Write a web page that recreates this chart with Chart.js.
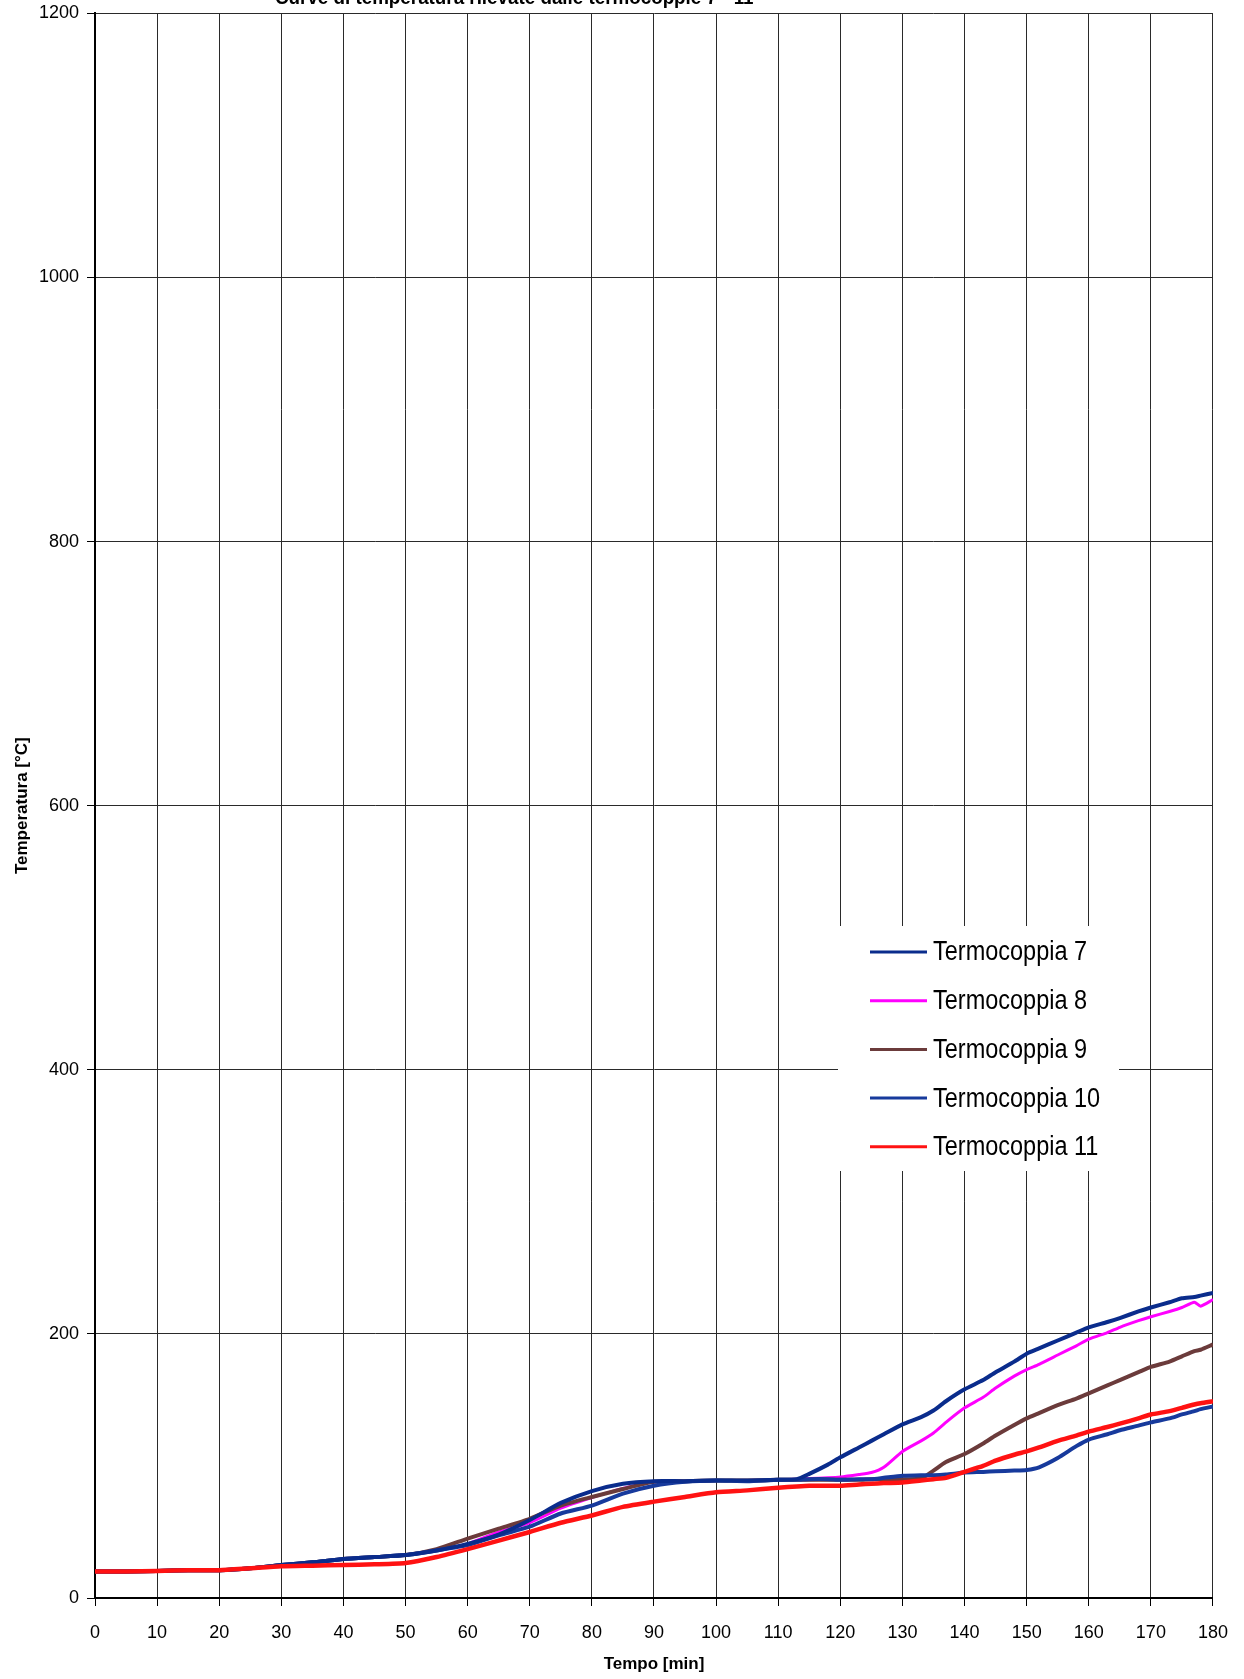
<!DOCTYPE html>
<html>
<head>
<meta charset="utf-8">
<title>Curve di temperatura</title>
<script src="https://cdn.jsdelivr.net/npm/chart.js@4/dist/chart.umd.min.js"></script>
<style>
  html, body { margin: 0; padding: 0; background: #fff; }
  #wrap { width: 1244px; height: 1679px; }
</style>
</head>
<body>
<div id="wrap"><canvas id="c" width="1244" height="1679"></canvas></div>
<script>
// ---- data (minutes / °C)
const TIME = [0, 5, 10, 15, 20, 25, 30, 35, 40, 45, 50, 55, 60, 65, 70, 75, 80, 85, 90, 95,
  100, 105, 110, 113, 115, 118, 120, 123, 125, 127, 130, 133, 135, 137, 140, 143, 145, 148,
  150, 152, 155, 158, 160, 163, 165, 168, 170, 173, 175, 177, 178, 180];

const TC7 = [20, 20, 20.5, 21, 21, 22.5, 25, 27, 29.5, 31, 32.5, 36, 41, 48, 59, 72, 81, 86.5, 88.5, 88.5,
  89, 89, 89.5, 90, 94, 101, 106.5, 114, 119, 124, 131.5, 137, 142, 149, 158, 165, 171, 179,
  185, 189, 195, 201, 205, 209, 212, 217, 220, 224, 227, 228, 229, 231];

const TC8 = [20, 20, 20.5, 21, 21, 22.5, 25, 27, 29.5, 31, 32.5, 36, 41, 50, 57, 68, 76, 83, 88, 88.5,
  89, 89, 89.5, 90, 90.5, 91, 91.6, 93.5, 95, 99, 111, 119, 125, 133, 144, 152, 159, 168,
  173, 177, 184, 191, 196, 201, 205, 210, 213, 217, 220, 224, 221, 226];

const TC9 = [20, 20, 20.5, 21, 21, 22.5, 25, 27, 29.5, 31, 32.5, 37, 45, 52.5, 60, 70, 76.5, 82.5, 88, 88.5,
  89, 89, 89.5, 89.5, 89.5, 89.5, 89.5, 89.5, 90, 90, 90, 90.5, 96.5, 103, 109, 117, 123, 131,
  136, 140, 146, 151, 155, 161, 165, 171, 175, 179, 183, 187, 188, 192];

const TC10 = [20, 20, 20.5, 21, 21, 22.5, 25, 27, 29.5, 31, 32.5, 36, 40, 47.5, 54, 64, 70, 79, 85, 88,
  89, 88.5, 89.5, 89.5, 90, 90, 89.5, 90, 90, 91, 92.5, 93, 93, 93.5, 95, 95.5, 96, 96.5,
  97, 99, 106, 115, 120, 124, 127, 130.5, 133, 136, 139, 141.5, 143, 145];

const TC11 = [20, 20, 20.5, 21, 21, 22.5, 24, 24.5, 25, 25.5, 26.5, 31, 37, 43.5, 50, 57, 62.5, 69, 73, 76.5,
  80, 81.5, 83.5, 84.5, 85, 85, 85, 86, 86.5, 87, 87.5, 89, 90, 91, 95.5, 100, 104, 108.5,
  111, 114, 119, 123, 126, 129.5, 132, 136, 139, 141.5, 144, 146.5, 147.5, 149];

const SERIES = ["Termocoppia 7", "Termocoppia 8", "Termocoppia 9", "Termocoppia 10", "Termocoppia 11"];
const VALUES = [TC7, TC8, TC9, TC10, TC11];
const COLORS = ["#0a2c8c", "#ff00ff", "#6b3b3b", "#173a9c", "#ff1212"];
const WIDTHS = [4, 3, 4, 4, 4.5];
const ZORDER = [1, 4, 3, 2, 0];   // red on top, pink/brown underneath the blue plateau

const X_TICKS = { min: 0, max: 180, step: 10 };
const Y_TICKS = { min: 0, max: 1200, step: 200 };

const SANS = '"Liberation Sans", Arial, sans-serif';

// title is clipped by the top of the scan, legend sits inside the plot
const overlay = {
  id: "overlay",
  afterDraw(chart) {
    const ctx = chart.ctx;
    ctx.save();
    ctx.fillStyle = "#000";
    ctx.font = 'bold 20px ' + SANS;
    ctx.textBaseline = "middle";
    ctx.translate(275, -2);
    ctx.scale(0.94, 1);
    ctx.fillText("Curve di temperatura rilevate dalle termocoppie 7 - 11", 0, 0);
    ctx.restore();

    // legend box
    ctx.save();
    ctx.fillStyle = "#fff";
    ctx.fillRect(838, 926, 281, 245);
    chart.data.datasets.forEach((ds, i) => {
      const y = 952 + i * 48.7;
      ctx.strokeStyle = ds.borderColor;
      ctx.lineWidth = 3;
      ctx.beginPath();
      ctx.moveTo(870, y);
      ctx.lineTo(927, y);
      ctx.stroke();
      ctx.save();
      ctx.translate(933, y + 1);
      ctx.scale(0.87, 1);
      ctx.fillStyle = "#000";
      ctx.font = '27px ' + SANS;
      ctx.textBaseline = "middle";
      ctx.fillText(ds.label, 0, 0);
      ctx.restore();
    });
    ctx.restore();
  }
};

new Chart(document.getElementById("c"), {
  type: "line",
  data: {
    datasets: SERIES.map((name, i) => ({
      label: name,
      data: TIME.map((t, k) => ({ x: t, y: VALUES[i][k] })),
      borderColor: COLORS[i],
      backgroundColor: COLORS[i],
      borderWidth: WIDTHS[i],
      pointRadius: 0,
      tension: 0.2,
      order: ZORDER[i],
    })),
  },
  options: {
    responsive: false,
    animation: false,
    devicePixelRatio: 1,
    layout: { padding: { top: 0, right: 27, left: 0, bottom: 0 } },
    plugins: { legend: { display: false }, tooltip: { enabled: false } },
    scales: {
      x: {
        type: "linear",
        min: X_TICKS.min, max: X_TICKS.max,
        afterFit: (s) => { s.height = 81; },
        ticks: { stepSize: X_TICKS.step, color: "#000", padding: 16, maxRotation: 0,
          callback: (v) => String(v), font: { family: SANS, size: 18 } },
        grid: { color: "#2a2a2a", lineWidth: 1, tickLength: 8, tickColor: "#000" },
        border: { color: "#000", width: 2 },
        title: { display: true, text: "Tempo [min]", color: "#000", padding: { top: 0, bottom: 4 },
          font: { family: SANS, size: 17, weight: "bold" } },
      },
      y: {
        min: Y_TICKS.min, max: Y_TICKS.max,
        afterFit: (s) => { s.width = 95; },
        ticks: { stepSize: Y_TICKS.step, color: "#000", padding: 8,
          callback: (v) => String(v), font: { family: SANS, size: 18, lineHeight: 0.6 } },
        grid: { color: "#2a2a2a", lineWidth: 1, tickLength: 8, tickColor: "#000" },
        border: { color: "#000", width: 2 },
        title: { display: true, text: "Temperatura [°C]", color: "#000", padding: { top: 12, bottom: 0 },
          font: { family: SANS, size: 17, weight: "bold" } },
      },
    },
  },
  plugins: [overlay],
});
</script>
</body>
</html>
